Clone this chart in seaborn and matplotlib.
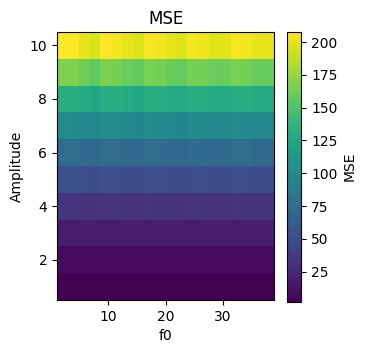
import matplotlib
matplotlib.use('Agg')
import matplotlib.pyplot as plt
import numpy as np
import seaborn as sns

# f0 grid (20 columns) and amplitude grid (10 rows)
f0 = [2.0, 3.89, 5.79, 7.68, 9.58, 11.47, 13.37, 15.26, 17.16, 19.05,
      20.95, 22.84, 24.74, 26.63, 28.53, 30.42, 32.32, 34.21, 36.11, 38.0]
amplitude = [1, 2, 3, 4, 5, 6, 7, 8, 9, 10]

# MSE values, one row per amplitude
mse_a1 = [2.1, 2.1, 2.05, 2.0, 2.1, 2.08, 2.03, 2.0, 2.09, 2.07, 2.03, 2.0, 2.08, 2.06, 2.02, 2.02, 2.09, 2.07, 2.03, 2.03]
mse_a2 = [8.3, 8.3, 8.1, 7.9, 8.3, 8.2, 8.0, 7.9, 8.3, 8.2, 8.0, 7.9, 8.2, 8.1, 8.0, 8.0, 8.3, 8.2, 8.0, 8.0]
mse_a3 = [18.6, 18.6, 18.1, 17.6, 18.6, 18.4, 18.0, 17.6, 18.5, 18.3, 18.0, 17.7, 18.4, 18.2, 17.9, 17.9, 18.5, 18.3, 18.0, 18.0]
mse_a4 = [33, 33, 32, 31, 33, 32.7, 32, 31, 33, 32.5, 32, 31.4, 32.7, 32.3, 31.7, 31.7, 33, 32.5, 32, 32]
mse_a5 = [52, 52, 50.5, 49, 52, 51.5, 50, 49, 52, 51, 50, 49.5, 51.5, 51, 50, 50, 52, 51, 50, 50]
mse_a6 = [75, 75, 73, 71, 75, 74, 72, 71, 75, 74, 72, 71, 74, 73, 72, 72, 75, 74, 72, 72]
mse_a7 = [101, 101, 98, 96, 101, 100, 98, 96, 100, 99, 98, 96, 100, 99, 97, 97, 100, 99, 98, 98]
mse_a8 = [132, 132, 128, 125, 132, 131, 128, 125, 131, 130, 128, 126, 131, 129, 127, 127, 131, 130, 128, 128]
mse_a9 = [167, 167, 162, 158, 167, 165, 161, 158, 166, 164, 161, 159, 165, 164, 161, 161, 166, 164, 161, 161]
mse_a10 = [208, 208, 201, 196, 208, 205, 200, 196, 206, 204, 200, 197, 205, 203, 199, 199, 206, 204, 200, 200]

mse = np.array([mse_a1, mse_a2, mse_a3, mse_a4, mse_a5,
                mse_a6, mse_a7, mse_a8, mse_a9, mse_a10])

sns.set_style('ticks')
plt.rcParams['font.family'] = ['DejaVu Sans']
plt.rcParams['text.color'] = 'black'
plt.rcParams['axes.labelcolor'] = 'black'

fig = plt.figure(figsize=(3.66, 3.55), dpi=100)
ax = fig.add_axes([57 / 366, 55 / 355, 217 / 366, 268 / 355])
cax = fig.add_axes([287 / 366, 53.3 / 355, 14.4 / 366, 270 / 355])

cmap = sns.color_palette('viridis', as_cmap=True)
mesh = ax.pcolormesh(f0, amplitude, mse, cmap=cmap, shading='nearest')
ax.set_xticks([10, 20, 30])
ax.set_yticks([2, 4, 6, 8, 10])
ax.set_xlabel('f0', color='black')
ax.set_ylabel('Amplitude', color='black')
ax.set_title('MSE', color='black', fontsize=12)

cbar = fig.colorbar(mesh, cax=cax)
cbar.set_ticks([25, 50, 75, 100, 125, 150, 175, 200])
cbar.set_label('MSE', color='black')

for a in (ax, cax):
    for s in a.spines.values():
        s.set_color('black')
        s.set_linewidth(0.8)
    a.tick_params(colors='black', labelcolor='black', labelsize=10, length=3.5, width=0.8)

fig.savefig('out.png', dpi=100)
